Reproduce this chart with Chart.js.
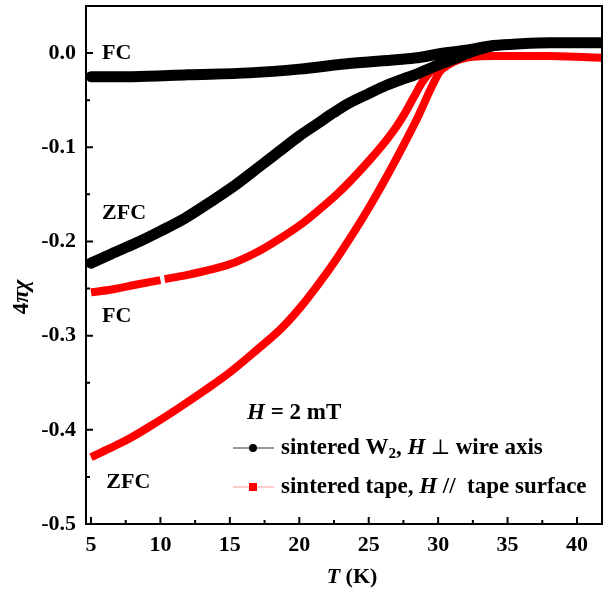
<!DOCTYPE html>
<html>
<head>
<meta charset="utf-8">
<script src="https://cdn.jsdelivr.net/npm/chart.js@4.4.0/dist/chart.umd.min.js"></script>
<style>
  html, body { margin: 0; padding: 0; background: #fff; }
  #wrap { width: 605px; height: 590px; }
</style>
</head>
<body>
<div id="wrap"><canvas id="chi"></canvas></div>
<script>
const xTicks = [5, 10, 15, 20, 25, 30, 35, 40];
const yTicks = [-0.5, -0.4, -0.3, -0.2, -0.1, 0.0];

// sintered W2 wire, H perpendicular to wire axis
const wireFcT = [5, 8, 12, 16.4, 20, 23.6, 27, 28.5, 30, 32, 34, 36, 38, 40, 41.8];
const wireFcV = [-0.025, -0.025, -0.023, -0.021, -0.017, -0.011, -0.007, -0.005, -0.001, 0.003, 0.008, 0.010, 0.011, 0.011, 0.011];
const wireZfcT = [5, 6.5, 8.2, 10, 11.8, 13.6, 15.4, 17, 18.5, 20, 21.3, 22.5, 23.6, 25, 26, 27.2, 28.5, 29.6, 31, 32.5, 34];
const wireZfcV = [-0.223, -0.213, -0.202, -0.189, -0.175, -0.158, -0.140, -0.122, -0.105, -0.088, -0.075, -0.063, -0.053, -0.043, -0.036, -0.029, -0.022, -0.015, -0.007, 0.002, 0.008];

// sintered tape, H parallel to tape surface (FC has a small gap near 10 K)
const tapeFcT = [5, 6.5, 8.2, 10, 10.15, 10.3, 11.8, 13.6, 15.4, 17, 18.6, 20.3, 21.3, 22.7, 23.6, 25.1, 26.3, 27, 27.6, 28.2, 28.9, 29.5, 30.2];
const tapeFcV = [-0.254, -0.251, -0.246, -0.241, null, -0.240, -0.236, -0.230, -0.222, -0.211, -0.197, -0.180, -0.168, -0.150, -0.137, -0.113, -0.092, -0.078, -0.064, -0.048, -0.030, -0.019, -0.011];
const tapeZfcT = [5, 6.3, 7.8, 9.5, 11.4, 13.2, 15, 16.8, 18.8, 20.3, 21.5, 22.7, 23.9, 25.1, 26.3, 27.5, 28.2, 28.6, 29, 29.4, 29.8, 30.1, 30.8, 31.5, 32.5, 34, 36, 38, 40, 41.8];
const tapeZfcV = [-0.429, -0.420, -0.409, -0.394, -0.376, -0.358, -0.339, -0.317, -0.291, -0.266, -0.243, -0.218, -0.191, -0.162, -0.131, -0.098, -0.078, -0.066, -0.053, -0.040, -0.028, -0.020, -0.012, -0.007, -0.004, -0.003, -0.003, -0.003, -0.004, -0.005];

const pts = (t, v) => t.map((x, i) => ({ x: x, y: v[i] }));

const SERIF = '"Liberation Serif", "DejaVu Serif", serif';
const f = (size, style) => (style || 'bold') + ' ' + size + 'px ' + SERIF;

// draw a row of text runs with different fonts, left aligned
function drawRuns(ctx, x, y, runs) {
  ctx.textAlign = 'left';
  ctx.textBaseline = 'middle';
  for (const r of runs) {
    ctx.font = r.font;
    ctx.fillText(r.t, x, y + (r.dy || 0));
    x += ctx.measureText(r.t).width;
  }
}
function runsWidth(ctx, runs) {
  let w = 0;
  for (const r of runs) { ctx.font = r.font; w += ctx.measureText(r.t).width; }
  return w;
}

const decor = {
  id: 'decor',
  afterDraw(chart) {
    const { ctx, chartArea: a, scales: { x, y } } = chart;
    ctx.save();
    ctx.fillStyle = '#000';
    ctx.strokeStyle = '#000';
    ctx.lineWidth = 2;
    ctx.strokeRect(a.left, a.top, a.right - a.left, a.bottom - a.top);

    // inward ticks, minor ones halfway between majors
    ctx.beginPath();
    xTicks.forEach((v, i) => {
      const px = x.getPixelForValue(v);
      ctx.moveTo(px, a.bottom); ctx.lineTo(px, a.bottom - 7);
      if (i < xTicks.length - 1) {
        const mx = x.getPixelForValue((v + xTicks[i + 1]) / 2);
        ctx.moveTo(mx, a.bottom); ctx.lineTo(mx, a.bottom - 4);
      }
    });
    yTicks.forEach((v, i) => {
      const py = y.getPixelForValue(v);
      ctx.moveTo(a.left, py); ctx.lineTo(a.left + 7, py);
      const next = i < yTicks.length - 1 ? yTicks[i + 1] : v + 0.1;
      const my = y.getPixelForValue((v + next) / 2);
      if (my > a.top + 1) { ctx.moveTo(a.left, my); ctx.lineTo(a.left + 4, my); }
    });
    ctx.stroke();

    // curve labels
    ctx.font = f(22);
    ctx.textAlign = 'left';
    ctx.textBaseline = 'middle';
    ctx.fillText('FC', x.getPixelForValue(5.8), y.getPixelForValue(0.0));
    ctx.fillText('ZFC', x.getPixelForValue(5.8), y.getPixelForValue(-0.170));
    ctx.fillText('FC', x.getPixelForValue(5.8), y.getPixelForValue(-0.280));
    ctx.fillText('ZFC', x.getPixelForValue(6.1), y.getPixelForValue(-0.456));

    // axis titles
    const xt = [{ t: 'T', font: f(22, 'italic bold') }, { t: ' (K)', font: f(22) }];
    drawRuns(ctx, (a.left + a.right) / 2 - runsWidth(ctx, xt) / 2 + 8, 577, xt);
    ctx.save();
    ctx.translate(22, 297);
    ctx.rotate(-Math.PI / 2);
    const yt = [{ t: '4', font: f(23) }, { t: 'πχ', font: f(23, 'italic bold') }];
    drawRuns(ctx, -runsWidth(ctx, yt) / 2, 0, yt);
    ctx.restore();

    // legend
    const lx = a.left + 147, tx = a.left + 195;
    drawRuns(ctx, a.left + 161, 413, [
      { t: 'H', font: f(23, 'italic bold') }, { t: ' = 2 mT', font: f(23) }
    ]);
    const ds = chart.data.datasets;
    ctx.lineWidth = 1;
    ctx.strokeStyle = '#333';
    ctx.beginPath(); ctx.moveTo(lx, 448); ctx.lineTo(lx + 41, 448); ctx.stroke();
    ctx.fillStyle = ds[0].borderColor;
    ctx.beginPath(); ctx.arc(lx + 20, 448, 4, 0, Math.PI * 2); ctx.fill();
    ctx.strokeStyle = '#ff9a9a';
    ctx.beginPath(); ctx.moveTo(lx, 487); ctx.lineTo(lx + 41, 487); ctx.stroke();
    ctx.fillStyle = ds[2].borderColor;
    ctx.fillRect(lx + 16, 483, 8, 8);
    ctx.fillStyle = '#000';
    drawRuns(ctx, tx, 448, [
      { t: 'sintered W', font: f(23) }, { t: '2', font: f(15), dy: 6 },
      { t: ', ', font: f(23) }, { t: 'H', font: f(23, 'italic bold') },
      { t: ' ⊥ ', font: f(21, 'normal') }, { t: 'wire axis', font: f(23) }
    ]);
    drawRuns(ctx, tx, 487, [
      { t: 'sintered tape, ', font: f(23) }, { t: 'H', font: f(23, 'italic bold') },
      { t: ' //  tape surface', font: f(23) }
    ]);
    ctx.restore();
  }
};

const line = (data, color, width, cap) => ({
  data: data,
  showLine: true,
  borderColor: color,
  backgroundColor: color,
  borderWidth: width,
  borderCapStyle: cap,
  borderJoinStyle: 'round',
  pointRadius: 0,
  cubicInterpolationMode: 'monotone',
  spanGaps: false
});

new Chart(document.getElementById('chi'), {
  type: 'scatter',
  data: {
    datasets: [
      line(pts(wireFcT, wireFcV), '#000000', 11, 'round'),
      line(pts(wireZfcT, wireZfcV), '#000000', 11, 'round'),
      line(pts(tapeFcT, tapeFcV), '#ff0000', 8, 'butt'),
      line(pts(tapeZfcT, tapeZfcV), '#ff0000', 8, 'butt')
    ]
  },
  options: {
    responsive: true,
    maintainAspectRatio: false,
    animation: false,
    layout: { padding: { top: 6, right: 3, left: 0, bottom: 0 } },
    plugins: { legend: { display: false }, tooltip: { enabled: false } },
    scales: {
      x: {
        type: 'linear',
        min: 4.64,
        max: 41.8,
        afterBuildTicks: s => { s.ticks = xTicks.map(v => ({ value: v })); },
        afterFit: s => { s.height = 66; s.paddingLeft = 0; s.paddingRight = 0; },
        grid: { display: false, drawTicks: false },
        border: { display: false },
        ticks: { color: '#000', padding: 8, maxRotation: 0, font: { family: SERIF, size: 22, weight: 'bold' } }
      },
      y: {
        type: 'linear',
        min: -0.5,
        max: 0.05,
        afterBuildTicks: s => { s.ticks = yTicks.map(v => ({ value: v })); },
        afterFit: s => { s.width = 86; s.paddingTop = 0; s.paddingBottom = 0; },
        grid: { display: false, drawTicks: false },
        border: { display: false },
        ticks: {
          color: '#000', padding: 10,
          font: { family: SERIF, size: 22, weight: 'bold' },
          callback: v => v.toFixed(1)
        }
      }
    }
  },
  plugins: [decor]
});
</script>
</body>
</html>
